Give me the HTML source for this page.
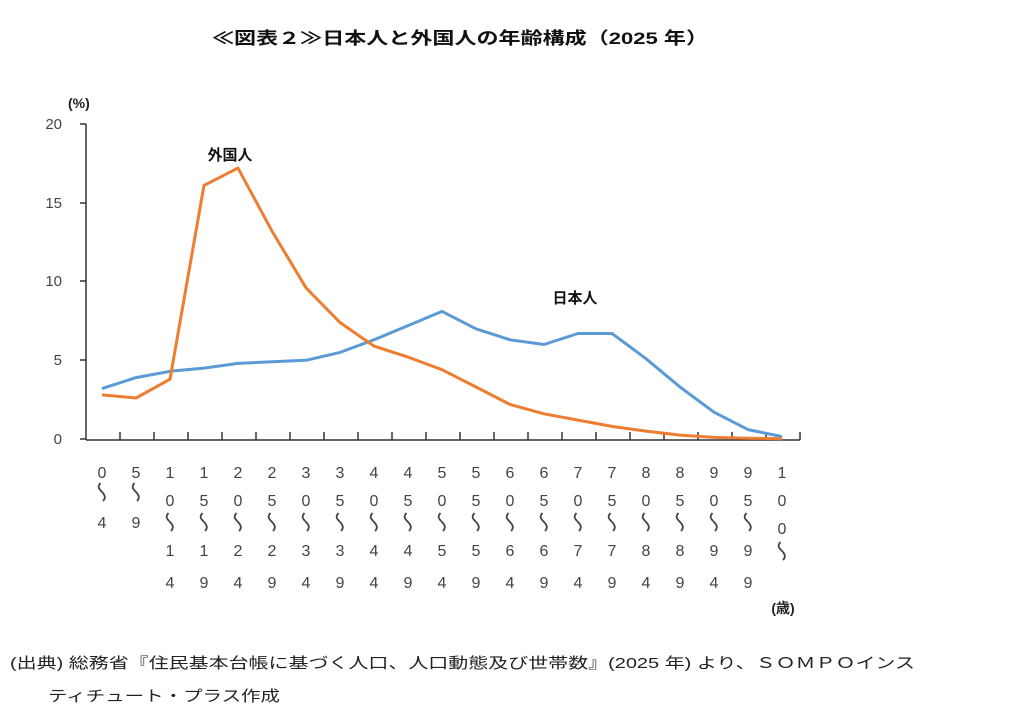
<!DOCTYPE html><html><head><meta charset="utf-8"><style>body{margin:0;background:#fff}svg{display:block}</style></head><body>
<svg width="1018" height="720" xmlns="http://www.w3.org/2000/svg" font-family="Liberation Sans, Noto Sans CJK JP, sans-serif">
<defs><path id="w" d="M-1.5,-9 C-5,-5 -3,-3 0,0 C3,3 4,6 1,9" fill="none" stroke="#444" stroke-width="1.8"/></defs>
<text x="212" y="44" font-size="17" font-weight="bold" fill="#111" textLength="496" lengthAdjust="spacingAndGlyphs">≪図表２≫日本人と外国人の年齢構成（2025 年）</text>
<text x="68" y="108" font-size="14" font-weight="bold" fill="#222">(%)</text>
<g font-size="15" fill="#444" text-anchor="end">
<text x="62" y="129">20</text><text x="62" y="208">15</text><text x="62" y="286">10</text><text x="62" y="365">5</text><text x="62" y="444">0</text></g>
<g stroke="#333" stroke-width="1.5" fill="none">
<line x1="86" y1="124" x2="86" y2="440"/><line x1="86" y1="440" x2="800" y2="440"/>
<line x1="80" y1="124" x2="86" y2="124"/><line x1="80" y1="203" x2="86" y2="203"/><line x1="80" y1="281" x2="86" y2="281"/><line x1="80" y1="360" x2="86" y2="360"/><line x1="80" y1="439" x2="86" y2="439"/>
<path d="M120 432V440M154 432V440M188 432V440M222 432V440M256 432V440M290 432V440M324 432V440M358 432V440M392 432V440M426 432V440M460 432V440M494 432V440M528 432V440M562 432V440M596 432V440M630 432V440M664 432V440M698 432V440M732 432V440M766 432V440M800 432V440"/>
</g>
<polyline fill="none" stroke="#5b9bd5" stroke-width="3" stroke-linejoin="round" points="102,388.6 136,377.6 170,371.3 204,368.1 238,363.4 272,361.8 306,360.3 340,352.4 374,339.8 408,325.6 442,311.4 476,328.8 510,339.8 544,344.5 578,333.5 612,333.5 646,358.7 680,387 714,412.2 748,429.6 782,436.6"/>
<polyline fill="none" stroke="#ed7d31" stroke-width="3" stroke-linejoin="round" points="102,394.9 136,398 170,379.2 204,185.4 238,168.1 272,231.1 306,287.8 340,322.5 374,346.1 408,357.1 442,369.7 476,387 510,404.4 544,413.8 578,420.1 612,426.4 646,431.1 680,435.1 714,437.4 748,438.2 782,438.7"/>
<text x="230" y="160" font-size="15" font-weight="bold" fill="#111" text-anchor="middle">外国人</text>
<text x="575" y="303" font-size="15" font-weight="bold" fill="#111" text-anchor="middle">日本人</text>
<g font-size="16" fill="#444" text-anchor="middle">
<text x="102" y="478">0</text><text x="102" y="528">4</text>
<text x="136" y="478">5</text><text x="136" y="528">9</text>
<text x="170" y="478">1</text><text x="170" y="506">0</text><text x="170" y="556">1</text><text x="170" y="588">4</text>
<text x="204" y="478">1</text><text x="204" y="506">5</text><text x="204" y="556">1</text><text x="204" y="588">9</text>
<text x="238" y="478">2</text><text x="238" y="506">0</text><text x="238" y="556">2</text><text x="238" y="588">4</text>
<text x="272" y="478">2</text><text x="272" y="506">5</text><text x="272" y="556">2</text><text x="272" y="588">9</text>
<text x="306" y="478">3</text><text x="306" y="506">0</text><text x="306" y="556">3</text><text x="306" y="588">4</text>
<text x="340" y="478">3</text><text x="340" y="506">5</text><text x="340" y="556">3</text><text x="340" y="588">9</text>
<text x="374" y="478">4</text><text x="374" y="506">0</text><text x="374" y="556">4</text><text x="374" y="588">4</text>
<text x="408" y="478">4</text><text x="408" y="506">5</text><text x="408" y="556">4</text><text x="408" y="588">9</text>
<text x="442" y="478">5</text><text x="442" y="506">0</text><text x="442" y="556">5</text><text x="442" y="588">4</text>
<text x="476" y="478">5</text><text x="476" y="506">5</text><text x="476" y="556">5</text><text x="476" y="588">9</text>
<text x="510" y="478">6</text><text x="510" y="506">0</text><text x="510" y="556">6</text><text x="510" y="588">4</text>
<text x="544" y="478">6</text><text x="544" y="506">5</text><text x="544" y="556">6</text><text x="544" y="588">9</text>
<text x="578" y="478">7</text><text x="578" y="506">0</text><text x="578" y="556">7</text><text x="578" y="588">4</text>
<text x="612" y="478">7</text><text x="612" y="506">5</text><text x="612" y="556">7</text><text x="612" y="588">9</text>
<text x="646" y="478">8</text><text x="646" y="506">0</text><text x="646" y="556">8</text><text x="646" y="588">4</text>
<text x="680" y="478">8</text><text x="680" y="506">5</text><text x="680" y="556">8</text><text x="680" y="588">9</text>
<text x="714" y="478">9</text><text x="714" y="506">0</text><text x="714" y="556">9</text><text x="714" y="588">4</text>
<text x="748" y="478">9</text><text x="748" y="506">5</text><text x="748" y="556">9</text><text x="748" y="588">9</text>
<text x="782" y="478">1</text><text x="782" y="506">0</text><text x="782" y="534">0</text>
</g>
<use href="#w" x="102" y="492"/><use href="#w" x="136" y="492"/>
<use href="#w" x="170" y="522"/><use href="#w" x="204" y="522"/><use href="#w" x="238" y="522"/><use href="#w" x="272" y="522"/><use href="#w" x="306" y="522"/><use href="#w" x="340" y="522"/><use href="#w" x="374" y="522"/><use href="#w" x="408" y="522"/><use href="#w" x="442" y="522"/><use href="#w" x="476" y="522"/><use href="#w" x="510" y="522"/><use href="#w" x="544" y="522"/><use href="#w" x="578" y="522"/><use href="#w" x="612" y="522"/><use href="#w" x="646" y="522"/><use href="#w" x="680" y="522"/><use href="#w" x="714" y="522"/><use href="#w" x="748" y="522"/>
<use href="#w" x="782" y="551"/>
<text x="783" y="613" font-size="14" font-weight="bold" fill="#222" text-anchor="middle">(歳)</text>
<text x="10" y="668" font-size="15" fill="#222" textLength="905" lengthAdjust="spacingAndGlyphs">(出典) 総務省『住民基本台帳に基づく人口、人口動態及び世帯数』(2025 年) より、ＳＯＭＰＯインス</text>
<text x="48" y="701" font-size="15" fill="#222" textLength="232" lengthAdjust="spacingAndGlyphs">ティチュート・プラス作成</text>
</svg></body></html>
